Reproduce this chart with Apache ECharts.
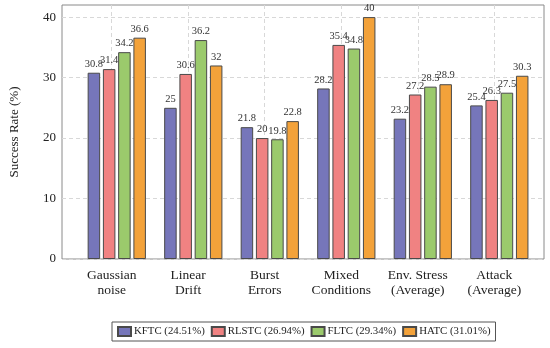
<!DOCTYPE html>
<html>
<head>
<meta charset="utf-8">
<style>html,body{margin:0;padding:0;background:#fff;}#c{width:550px;height:348px;}</style>
<script src="https://cdn.jsdelivr.net/npm/echarts@6/dist/echarts.min.js"></script>
</head>
<body>
<div id="c"></div>
<script>
const categories = ['Gaussian\nnoise', 'Linear\nDrift', 'Burst\nErrors', 'Mixed\nConditions', 'Env. Stress\n(Average)', 'Attack\n(Average)'];
const seriesNames = ['KFTC (24.51%)', 'RLSTC (26.94%)', 'FLTC (29.34%)', 'HATC (31.01%)'];
const kftc  = [30.8, 25, 21.8, 28.2, 23.2, 25.4];
const rlstc = [31.4, 30.6, 20, 35.4, 27.2, 26.3];
const fltc  = [34.2, 36.2, 19.8, 34.8, 28.5, 27.5];
const hatc  = [36.6, 32, 22.8, 40, 28.9, 30.3];
const yTicks = [0, 10, 20, 30, 40];
const colors = ['#7676ba', '#f08282', '#9bca6c', '#f3a23a'];

const FONT = '"Liberation Serif", "DejaVu Serif", serif';
const idx = categories.map((_, i) => i);
const xMin = -0.65, xMax = 5.65, shift = 0.066;

const allData = [kftc, rlstc, fltc, hatc];
const series = allData.map((arr, s) => ({
  name: seriesNames[s],
  type: 'bar',
  xAxisIndex: 1,
  barWidth: 12.5,
  barGap: '22%',
  data: arr.map((v, i) => [i, v]),
  itemStyle: { color: colors[s], borderColor: '#4a4a4a', borderWidth: 1 },
  label: {
    show: true, position: 'top', distance: 3,
    formatter: p => String(p.value[1]),
    fontFamily: FONT, fontSize: 10.5, color: '#333'
  }
}));

const chart = echarts.init(document.getElementById('c'));
chart.setOption({
  animation: false,
  textStyle: { fontFamily: FONT },
  grid: { left: 58, right: 6, top: 5, bottom: 89, show: true, borderColor: '#8a8a8a', borderWidth: 1 },
  legend: {
    data: seriesNames,
    left: 112, top: 322,
    orient: 'horizontal',
    itemWidth: 13, itemHeight: 9, itemGap: 6,
    borderColor: '#555', borderWidth: 1, padding: [4, 5],
    icon: 'rect',
    textStyle: { fontFamily: FONT, fontSize: 10.8, color: '#222', padding: [0, 0, 0, -2] }
  },
  xAxis: [{
    type: 'value', min: xMin, max: xMax,
    axisLine: { show: false },
    axisTick: { show: false, customValues: idx },
    splitLine: { show: true, lineStyle: { color: '#d8d8d8', type: [4, 3], width: 1 } },
    axisLabel: {
      customValues: idx,
      formatter: v => categories[Math.round(v)] || '',
      fontFamily: FONT, fontSize: 13.5, color: '#222', lineHeight: 15, margin: 9
    }
  }, {
    type: 'value', min: xMin - shift, max: xMax - shift, show: false
  }],
  yAxis: {
    type: 'value', min: 0, max: 42,
    name: 'Success Rate (%)', nameLocation: 'middle', nameGap: 41,
    nameTextStyle: { fontFamily: FONT, fontSize: 13, color: '#222' },
    axisLine: { show: false },
    axisTick: { show: false, customValues: yTicks },
    splitLine: { show: true, lineStyle: { color: '#d8d8d8', type: [4, 3], width: 1 } },
    axisLabel: { customValues: yTicks, fontFamily: FONT, fontSize: 13, color: '#222', margin: 6 }
  },
  series: series
});
</script>
</body>
</html>
